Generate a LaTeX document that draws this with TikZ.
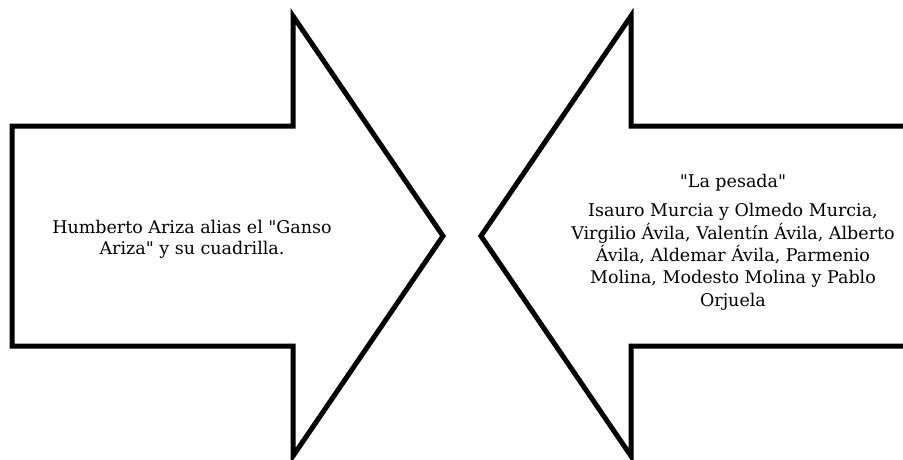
\documentclass[tikz,border=0pt]{standalone}
\usepackage{fontspec}
\setmainfont{DejaVu Serif}[Ligatures=TeXOff]
\begin{document}
\begin{tikzpicture}[x=1pt,y=-1pt,
  bigarrow/.style={draw=black,line width=5pt,fill=white,line join=miter},
  label/.style={align=center,inner sep=0pt}]
\useasboundingbox (0,0) rectangle (903,460);
\fill[white] (0,0) rectangle (903,460);
\begin{scope}
\clip (0,0) rectangle (903,460);
\draw[bigarrow] (12,126) -- (293,126) -- (293,16) -- (443,236) -- (293,456) -- (293,346) -- (12,346) -- cycle;
\draw[bigarrow] (920,126) -- (631,126) -- (631,16) -- (481,236) -- (631,456) -- (631,346) -- (920,346) -- cycle;
\end{scope}
\node[label,anchor=base,font=\fontsize{17.5}{21}\selectfont] (lt) at (192,254) {Humberto Ariza alias el "Ganso\\Ariza" y su cuadrilla.};
\node[label,anchor=base,font=\fontsize{17.5}{22.3}\selectfont] (rt) at (733,306) {"La pesada"\\[6.7pt]Isauro Murcia y Olmedo Murcia,\\Virgilio Ávila, Valentín Ávila, Alberto\\Ávila, Aldemar Ávila, Parmenio\\Molina, Modesto Molina y Pablo\\Orjuela};
\end{tikzpicture}
\end{document}
